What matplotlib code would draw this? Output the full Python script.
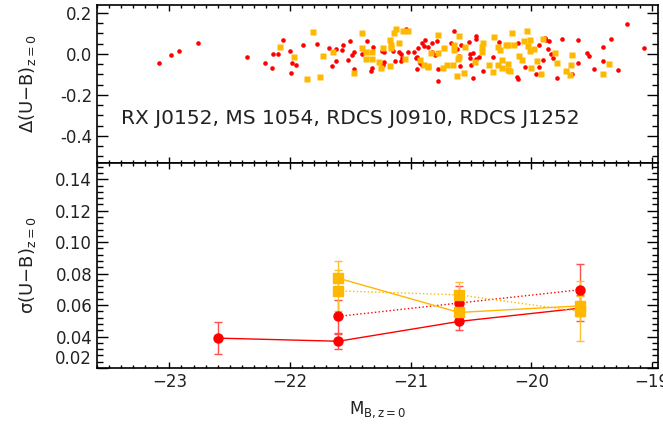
import matplotlib
matplotlib.use('Agg')
import matplotlib.pyplot as plt
from matplotlib.ticker import MultipleLocator, FormatStrFormatter

# --- top panel: residuals of the colour-magnitude relation
red_mag = [-23.09, -22.99, -22.92, -22.76,
           -22.36, -22.21, -22.15, -22.14, -22.10, -22.06, -22.00, -21.99, -21.98, -21.95,
           -21.89, -21.78, -21.68, -21.62, -21.62, -21.65,
           -21.56, -21.57, -21.50, -21.47, -21.49, -21.52, -21.47, -21.36, -21.40, -21.32,
           -21.33, -21.31, -21.24, -21.22, -21.22, -21.23, -21.15, -21.13, -21.10, -21.08,
           -21.07, -21.08, -21.02, -21.04, -20.97, -20.95, -20.94, -20.91, -20.88, -20.89,
           -20.86, -20.82, -20.78, -20.82, -20.95, -20.91, -20.92, -20.96, -20.77, -20.77,
           -20.80,
           -20.64, -20.67, -20.62, -20.58, -20.60, -20.59, -20.52, -20.46, -20.46, -20.51,
           -20.48, -20.51, -20.46, -20.43, -20.50, -20.40, -20.48, -20.32, -20.27, -20.11,
           -20.05, -20.12, -20.11, -19.96, -19.94, -19.94,
           -19.89, -19.88, -19.85, -19.86, -19.84, -19.82, -19.90, -19.79, -19.75, -19.66,
           -19.61, -19.61, -19.54, -19.52, -19.48, -19.41, -19.41, -19.34, -19.28, -19.21,
           -19.07]
red_res = [-0.043, -0.007, 0.015, 0.054,
           -0.013, -0.046, -0.067, 0.000, -0.002, 0.070, 0.015, -0.094, -0.043, -0.053,
           0.042, 0.047, 0.030, 0.026, -0.034, -0.061,
           0.041, 0.021, 0.062, 0.011, -0.005, -0.032, -0.074, 0.061, 0.000, -0.067,
           -0.082, 0.034, 0.013, 0.011, -0.039, -0.054, 0.013, -0.036, 0.011, -0.002,
           -0.018, -0.036, 0.008, 0.123, 0.008, -0.015, 0.028, 0.052, 0.070, 0.037,
           0.034, 0.051, 0.062, 0.008, -0.074, -0.053, -0.046, -0.020, -0.074, -0.133,
           -0.005,
           0.110, 0.052, 0.025, 0.041, -0.008, -0.058, 0.057, 0.087, 0.074, 0.000,
           0.005, -0.022, -0.025, -0.017, -0.053, -0.086, -0.117, -0.013, 0.057, 0.052,
           -0.063, -0.112, -0.123, -0.099, 0.041, -0.066,
           0.077, 0.069, 0.061, 0.025, -0.002, -0.018, -0.030, -0.117, 0.072, -0.096,
           0.069, -0.046, 0.005, -0.008, -0.072, -0.036, 0.033, 0.074, -0.081, 0.144,
           0.031]

yel_mag = [-22.08, -21.97, -21.81, -21.73, -21.64, -21.86, -21.75,
           -21.40, -21.14, -21.12, -21.06, -21.02, -21.17, -21.10, -21.16, -21.16, -21.40,
           -21.37, -21.32, -21.23, -21.37, -21.32, -21.26, -21.25, -21.17, -21.47, -21.05,
           -20.92, -20.89, -20.86, -20.86, -20.83, -20.77, -20.77,
           -20.72, -20.64, -20.64, -20.60, -20.55, -20.60, -20.61, -20.70, -20.73, -20.65,
           -20.62, -20.56, -20.47, -20.41, -20.40, -20.41, -20.35, -20.32, -20.31, -20.28,
           -20.26, -20.28, -20.24, -20.24, -20.19, -20.19, -20.18, -20.21, -20.19, -20.16,
           -20.14, -20.10, -20.06, -20.04, -20.03, -20.01, -20.01, -19.98, -20.08, -20.00,
           -19.95,
           -19.90, -19.80, -19.66, -19.79, -19.67, -19.71, -19.68, -19.92, -19.36, -19.41]
yel_res = [0.034, -0.015, 0.108, -0.010, 0.010, -0.123, -0.113,
           0.103, 0.103, 0.120, 0.113, 0.113, 0.066, 0.054, 0.044, 0.028, 0.030,
           0.011, 0.011, 0.030, -0.025, -0.025, -0.041, -0.069, -0.059, -0.094, -0.025,
           -0.028, -0.054, -0.058, -0.066, 0.005, 0.094, 0.005,
           0.030, 0.041, 0.020, 0.087, 0.033, -0.017, -0.025, -0.054, -0.071, -0.054,
           -0.110, -0.091, -0.041, 0.033, 0.054, 0.008, -0.054, -0.087, 0.084, 0.033,
           0.021, -0.054, -0.030, -0.069, -0.049, -0.077, -0.084, 0.041, 0.044, 0.103,
           0.041, -0.008, 0.061, 0.110, 0.037, 0.070, 0.015, 0.025, -0.028, -0.069,
           -0.034,
           0.074, 0.006, -0.005, -0.044, -0.054, -0.082, -0.103, -0.099, -0.049, -0.099]

# --- bottom panel: scatter per magnitude bin
red_bins = [-22.6, -21.6, -20.6, -19.6]
red_sig = [0.039, 0.037, 0.0496, 0.058]
red_sig_err = [0.010, 0.0048, 0.0055, 0.0084]

red_bins_b = [-21.6, -20.6, -19.6]
red_sig_b = [0.0528, 0.0613, 0.0697]
red_sig_b_err = [0.0105, 0.011, 0.0165]

yel_bins = [-21.6, -20.6, -19.6]
yel_sig = [0.0771, 0.0553, 0.0595]
yel_sig_err = [0.011, 0.005, 0.006]

yel_bins_b = [-21.6, -20.6, -19.6]
yel_sig_b = [0.069, 0.0665, 0.056]
yel_sig_b_err = [0.013, 0.008, 0.019]

RED = '#ff0000'
YEL = '#ffb800'
TXT = '#222222'

plt.rcParams['font.family'] = ['DejaVu Sans']
plt.rcParams['mathtext.default'] = 'regular'

fig = plt.figure(figsize=(6.63, 4.30), dpi=100)
ax1 = fig.add_axes([0.1463, 0.6198, 0.8462, 0.3693])
ax2 = fig.add_axes([0.1463, 0.1442, 0.8462, 0.4756])

ax1.plot(red_mag, red_res, 'o', color=RED, ms=3.3, mec='none')
ax1.plot(yel_mag, yel_res, 's', color=YEL, ms=4.0, mec='none')
ax1.text(-23.4, -0.315, 'RX J0152, MS 1054, RDCS J0910, RDCS J1252',
         fontsize=14.5, color=TXT, va='center')
ax1.set_ylim(-0.535, 0.24)
ax1.yaxis.set_major_locator(MultipleLocator(0.2))
ax1.yaxis.set_minor_locator(MultipleLocator(0.05))
ax1.yaxis.set_major_formatter(FormatStrFormatter('%.1f'))
ax1.set_xticklabels([])
ax1.set_ylabel(r'$\Delta$(U$-$B)$_{z=0}$', fontsize=13, color=TXT)

ax2.errorbar(red_bins, red_sig, yerr=red_sig_err, fmt='-o', color=RED, ms=6.5,
             lw=1.0, elinewidth=1.0, capsize=3, ecolor='#ff5050')
ax2.errorbar(red_bins_b, red_sig_b, yerr=red_sig_b_err, fmt=':o', color=RED, ms=6.5,
             lw=1.0, elinewidth=1.0, capsize=3, ecolor='#ff5050')
ax2.errorbar(yel_bins, yel_sig, yerr=yel_sig_err, fmt='-s', color=YEL, ms=7,
             lw=1.0, elinewidth=1.0, capsize=3, ecolor='#ffc030')
ax2.errorbar(yel_bins_b, yel_sig_b, yerr=yel_sig_b_err, fmt=':s', color=YEL, ms=7,
             lw=1.0, elinewidth=1.0, capsize=3, ecolor='#ffc030')
ax2.set_ylim(0.02, 0.15)
ax2.yaxis.set_major_locator(MultipleLocator(0.02))
ax2.yaxis.set_minor_locator(MultipleLocator(0.004))
ax2.yaxis.set_major_formatter(FormatStrFormatter('%.2f'))
ax2.set_ylabel(r'$\sigma$(U$-$B)$_{z=0}$', fontsize=13, color=TXT)
ax2.set_xlabel(r'M$_{B,z=0}$', fontsize=12, color=TXT)

for ax in (ax1, ax2):
    ax.set_xlim(-23.6, -18.95)
    ax.xaxis.set_major_locator(MultipleLocator(1))
    ax.xaxis.set_minor_locator(MultipleLocator(0.1))
    ax.tick_params(which='both', direction='in', top=True, right=True,
                   labelsize=12, labelcolor=TXT, width=1.0)
    ax.tick_params(axis='y', which='major', length=8)
    ax.tick_params(axis='y', which='minor', length=4)
    ax.tick_params(axis='x', which='major', length=4)
    ax.tick_params(axis='x', which='minor', length=2)
    ax.yaxis.set_label_coords(-0.105, 0.5)
    for s in ax.spines.values():
        s.set_linewidth(1.2)

ax2.xaxis.labelpad = 6

# the lowest label of the bottom panel sits above its tick, as in the original
fig.canvas.draw()
for lbl in ax2.get_yticklabels():
    if lbl.get_text() == '0.02':
        lbl.set_va('bottom')

fig.savefig('out.png', dpi=100)
